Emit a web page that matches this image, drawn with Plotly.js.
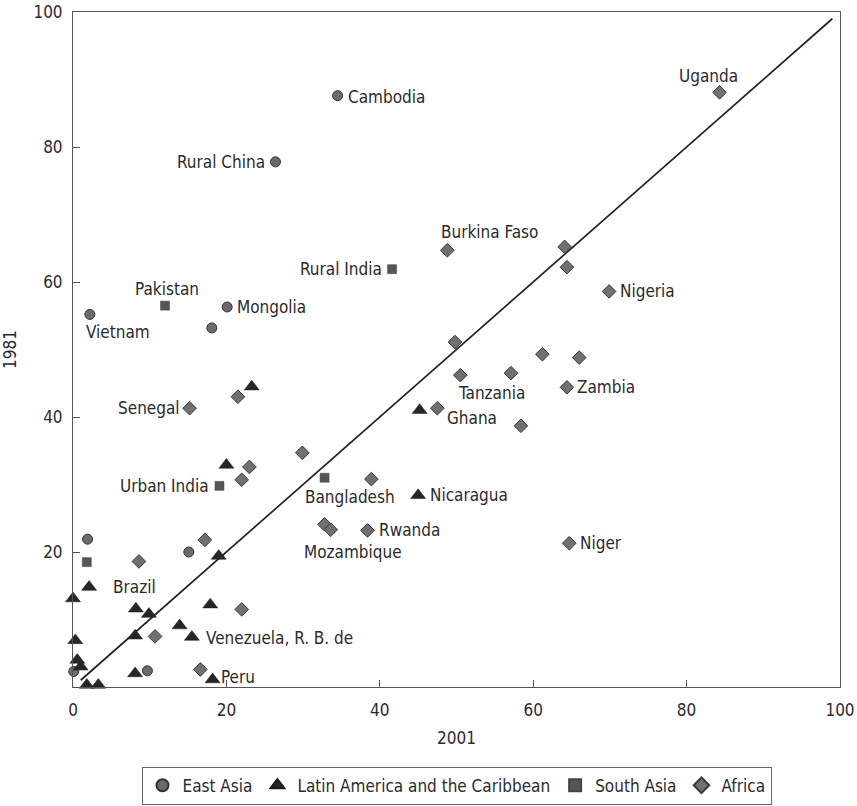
<!DOCTYPE html>
<html>
<head>
<meta charset="utf-8">
<script src="https://cdn.plot.ly/plotly-3.0.1.min.js"></script>
<style>html,body{margin:0;padding:0;background:#fff;}#chart{width:857px;height:806px;}</style>
</head>
<body>
<div id="chart"></div>
<script>
// ---- Data (x = 2001, y = 1981) ----
const eastAsiaX = [34.5, 26.4, 20.1, 2.2, 18.1, 1.9, 15.1, 0.1, 9.7];
const eastAsiaY = [87.6, 77.8, 56.3, 55.2, 53.2, 21.9, 20.0, 2.3, 2.4];
const eastAsiaNames = ["Cambodia", "Rural China", "Mongolia", "Vietnam", "", "", "", "", ""];

const latAmX = [23.3, 20.0, 45.2, 45.0, 19.0, 2.1, 0.0, 8.2, 9.9, 17.9, 13.9, 15.5, 8.1, 0.3, 0.56, 1.0, 8.1, 18.2, 1.8, 3.3];
const latAmY = [44.5, 32.9, 41.0, 28.4, 19.4, 14.8, 13.1, 11.6, 10.8, 12.2, 9.1, 7.4, 7.6, 6.9, 4.0, 3.0, 2.0, 1.1, 0.3, 0.3];
const latAmNames = ["", "", "", "Nicaragua", "", "Brazil", "", "", "", "", "", "Venezuela, R. B. de", "", "", "", "", "", "Peru", "", ""];

const southAsiaX = [41.6, 12.0, 32.8, 19.1, 1.8];
const southAsiaY = [61.9, 56.5, 31.0, 29.8, 18.5];
const southAsiaNames = ["Rural India", "Pakistan", "Bangladesh", "Urban India", ""];

const africaX = [84.3, 48.8, 64.1, 64.4, 69.9, 49.8, 61.2, 66.0, 50.5, 57.1, 64.4, 47.5, 58.4, 21.5, 15.2, 29.9, 23.0, 22.0, 38.9, 32.8, 33.6, 38.4, 64.7, 17.2, 8.6, 22.0, 10.7, 16.6];
const africaY = [88.1, 64.7, 65.2, 62.2, 58.6, 51.1, 49.3, 48.8, 46.2, 46.5, 44.4, 41.3, 38.7, 43.0, 41.3, 34.7, 32.6, 30.7, 30.8, 24.1, 23.3, 23.2, 21.3, 21.8, 18.6, 11.5, 7.5, 2.6];
const africaNames = ["Uganda", "Burkina Faso", "", "", "Nigeria", "", "", "", "Tanzania", "", "Zambia", "Ghana", "", "", "Senegal", "", "", "", "", "Mozambique", "", "Rwanda", "Niger", "", "", "", "", ""];

const seriesNames = ["East Asia", "Latin America and the Caribbean", "South Asia", "Africa"];
const equalityLine = [1, 99];

const xTicks = [0, 20, 40, 60, 80, 100];
const yTicks = [20, 40, 60, 80, 100];
const xTitle = "2001";
const yTitle = "1981";

// ---- Label placement (styling only) ----
const labelPlacement = {
  "Cambodia": ["left", 8, -1],
  "Rural China": ["right", -8, 0],
  "Mongolia": ["left", 8, 0],
  "Vietnam": ["left", -6, -18],
  "Pakistan": ["center", 2, 17],
  "Rural India": ["right", -8, 0],
  "Burkina Faso": ["left", -8, 18],
  "Uganda": ["center", -11, 16],
  "Nigeria": ["left", 9, 0],
  "Senegal": ["right", -8, 0],
  "Tanzania": ["left", -4, -18],
  "Zambia": ["left", 8, 0],
  "Ghana": ["left", 8, -10],
  "Urban India": ["right", -9, 0],
  "Bangladesh": ["left", -22, -19],
  "Nicaragua": ["left", 10, 0],
  "Rwanda": ["left", 9, 0],
  "Mozambique": ["left", -23, -28],
  "Niger": ["left", 9, 0],
  "Brazil": ["left", 22, 0],
  "Venezuela, R. B. de": ["left", 12, -1],
  "Peru": ["left", 6, 3]
};

const FONT = "Liberation Sans Narrow, DejaVu Sans Condensed, Arial Narrow, sans-serif";
const TXT = "#2b2b2b";

const groups = [
  {x: eastAsiaX, y: eastAsiaY, names: eastAsiaNames, marker: {symbol: "circle", size: 10, color: "#6b6b6e", line: {color: "#333", width: 1}}},
  {x: latAmX, y: latAmY, names: latAmNames, marker: {symbol: "triangle-up", size: 13, color: "#262626", line: {color: "#1a1a1a", width: 0.5}}},
  {x: southAsiaX, y: southAsiaY, names: southAsiaNames, marker: {symbol: "square", size: 9, color: "#555557", line: {color: "#444", width: 0.5}}},
  {x: africaX, y: africaY, names: africaNames, marker: {symbol: "diamond", size: 10.5, color: "#707072", line: {color: "#3a3a3a", width: 1}}}
];

const traces = [{
  x: equalityLine, y: equalityLine, mode: "lines", type: "scatter",
  line: {color: "#222", width: 1.7}, showlegend: false, hoverinfo: "skip"
}];
const annotations = [];
groups.forEach((g, i) => {
  traces.push({
    x: g.x, y: g.y, mode: "markers", type: "scatter", name: seriesNames[i],
    marker: g.marker, cliponaxis: false
  });
  g.names.forEach((n, j) => {
    if (!n) return;
    const p = labelPlacement[n];
    annotations.push({
      x: g.x[j], y: g.y[j], xref: "x", yref: "y", text: n, showarrow: false,
      xanchor: p[0], yanchor: "middle", xshift: p[1], yshift: p[2],
      font: {family: FONT, size: 17, color: TXT}
    });
  });
});

const axisCommon = {
  showline: true, linecolor: "#555", linewidth: 1, mirror: true,
  ticks: "inside", ticklen: 7, tickcolor: "#555", tickwidth: 1, automargin: false,
  showgrid: false, zeroline: false, tickfont: {family: FONT, size: 17, color: TXT}
};

const layout = {
  width: 857, height: 806,
  margin: {l: 73, r: 17, t: 12, b: 119, autoexpand: false},
  paper_bgcolor: "#fff", plot_bgcolor: "#fff",
  font: {family: FONT, color: TXT},
  xaxis: Object.assign({}, axisCommon, {
    range: [0, 100], tickvals: xTicks, ticklabelstandoff: 8,
    title: {text: xTitle, font: {family: FONT, size: 17, color: TXT}, standoff: 12}
  }),
  yaxis: Object.assign({}, axisCommon, {
    range: [0, 100], tickvals: yTicks, ticklabelstandoff: 6,
    title: {text: yTitle, font: {family: FONT, size: 17, color: TXT}, standoff: 14}
  }),
  legend: {
    orientation: "h", x: 0.5, xanchor: "center", y: -0.118, yanchor: "top",
    bordercolor: "#666", borderwidth: 1, font: {family: FONT, size: 17, color: TXT},
    itemsizing: "constant"
  },
  annotations: annotations,
  showlegend: true
};

Plotly.newPlot("chart", traces, layout, {displayModeBar: false, staticPlot: true});
</script>
</body>
</html>
